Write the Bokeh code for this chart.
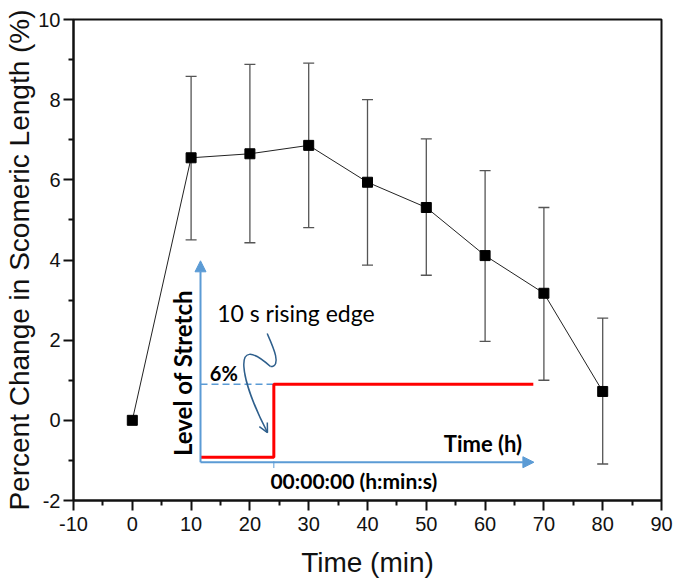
from bokeh.plotting import figure
from bokeh.models import (Range1d, FixedTicker, Whisker, ColumnDataSource, Arrow,
                          NormalHead, OpenHead, TeeHead)
from bokeh.embed import file_html
from bokeh.resources import INLINE
from bokeh.core.properties import value

# ---- main data ----
time_min = [0, 10, 20, 30, 40, 50, 60, 70, 80]
pct_change = [0.0, 6.55, 6.65, 6.86, 5.94, 5.31, 4.11, 3.17, 0.72]
err_time = [10, 20, 30, 40, 50, 60, 70, 80]
err_upper = [8.58, 8.88, 8.91, 8.00, 7.02, 6.23, 5.31, 2.55]
err_lower = [4.50, 4.43, 4.81, 3.87, 3.62, 1.97, 1.00, -1.09]

x_ticks = [-10, 0, 10, 20, 30, 40, 50, 60, 70, 80, 90]
x_minor = [-5, 5, 15, 25, 35, 45, 55, 65, 75, 85]
y_ticks = [-2, 0, 2, 4, 6, 8, 10]
y_minor = [-1, 1, 3, 5, 7, 9]

# ---- inset schematic (in data units of the main axes) ----
inset_x0 = 11.6
inset_y_axis = [-1.045, 3.98]
inset_x_axis = [11.6, 68.3]
step_x = [11.6, 24.07, 24.07, 68.2]
step_y = [-0.92, -0.92, 0.90, 0.90]
dash_x = [11.6, 24.07]
dash_y = [0.90, 0.90]
edge_tick_x = [24.07, 24.07]
edge_tick_y = [-1.02, -1.19]
# squiggle arrow (two cubic Bezier segments)
sq_x0 = [22.94, 23.50]
sq_y0 = [2.165, 1.342]
sq_cx0 = [23.84, 16.70]
sq_cy0 = [1.865, 2.239]
sq_cx1 = [25.54, 18.40]
sq_cy1 = [1.342, 0.993]
sq_x1 = [23.50, 22.99]
sq_y1 = [1.342, -0.304]

BLUE = "#5b9bd5"
DARKBLUE = "#2e5f8c"
RED = "#ff0000"

p = figure(frame_width=588, frame_height=481,
           min_border_left=73, min_border_top=19, min_border_right=14, min_border_bottom=87,
           x_range=Range1d(-10, 90), y_range=Range1d(-2, 10),
           output_backend="svg", toolbar_location=None)
p.background_fill_color = "white"
p.border_fill_color = "white"
p.xgrid.visible = False
p.ygrid.visible = False
p.outline_line_color = "#111111"
p.outline_line_width = 2
p.outline_line_alpha = 1

for ax in (p.xaxis[0], p.yaxis[0]):
    ax.axis_line_width = 2
    ax.axis_line_color = "#111111"
    ax.major_tick_line_width = 2
    ax.minor_tick_line_width = 2
    ax.major_tick_line_color = "#111111"
    ax.minor_tick_line_color = "#111111"
    ax.major_tick_out = 10
    ax.major_tick_in = 0
    ax.minor_tick_out = 5
    ax.minor_tick_in = 0
    ax.major_label_text_font = "Liberation Sans"
    ax.major_label_text_font_size = "20px"
    ax.major_label_text_color = "#111111"
    ax.axis_label_text_font = "Liberation Sans"
    ax.axis_label_text_font_size = "28px"
    ax.axis_label_text_font_style = "normal"
    ax.axis_label_text_color = "#111111"

p.xaxis.ticker = FixedTicker(ticks=x_ticks, minor_ticks=x_minor)
p.yaxis.ticker = FixedTicker(ticks=y_ticks, minor_ticks=y_minor)
p.xaxis.major_label_overrides = {t: str(t) for t in x_ticks}
p.yaxis.major_label_overrides = {t: str(t) for t in y_ticks}
p.xaxis.axis_label = "Time (min)"
p.yaxis.axis_label = "Percent Change in Scomeric Length (%)"
p.xaxis.major_label_standoff = 6
p.yaxis.major_label_standoff = 3
p.xaxis.axis_label_standoff = 13
p.yaxis.axis_label_standoff = 0

# ---- inset drawing ----
p.line(dash_x, dash_y, line_color=BLUE, line_width=1.5, line_dash="7 4")
p.line(edge_tick_x, edge_tick_y, line_color=BLUE, line_width=1)
p.add_layout(Arrow(x_start=inset_x0, y_start=inset_y_axis[0], x_end=inset_x0, y_end=inset_y_axis[1],
                   line_color=BLUE, line_width=2,
                   end=NormalHead(size=11, fill_color=BLUE, line_color=BLUE)))
p.add_layout(Arrow(x_start=inset_x_axis[0], y_start=inset_y_axis[0], x_end=inset_x_axis[1], y_end=inset_y_axis[0],
                   line_color=BLUE, line_width=2,
                   end=NormalHead(size=11, fill_color=BLUE, line_color=BLUE)))
p.line(step_x, step_y, line_color=RED, line_width=3)
p.bezier(x0=sq_x0, y0=sq_y0, x1=sq_x1, y1=sq_y1, cx0=sq_cx0, cy0=sq_cy0, cx1=sq_cx1, cy1=sq_cy1,
         line_color=DARKBLUE, line_width=1.5)
p.add_layout(Arrow(x_start=22.07, y_start=-0.045, x_end=sq_x1[1], y_end=sq_y1[1],
                   line_alpha=0, line_width=1,
                   end=OpenHead(size=9, line_color=DARKBLUE, line_width=1.5)))

p.text(x=[8.49], y=[1.18], text=["Level of Stretch"], angle=1.5708,
       text_font=value("Lato"), text_font_style="bold", text_font_size="24px",
       text_align="center", text_baseline="middle", text_color="#000000")
p.text(x=[14.44], y=[2.69], text=["10 s rising edge"],
       text_font=value("Lato"), text_font_size="23px",
       text_align="left", text_baseline="middle", text_color="#000000")
p.text(x=[13.18], y=[1.17], text=["6%"],
       text_font=value("Lato"), text_font_style="bold", text_font_size="20px",
       text_align="left", text_baseline="middle", text_color="#000000")
p.text(x=[37.67], y=[-1.50], text=["00:00:00 (h:min:s)"],
       text_font=value("Lato"), text_font_style="bold", text_font_size="21px",
       text_align="center", text_baseline="middle", text_color="#000000")
p.text(x=[66.3], y=[-0.58], text=["Time (h)"],
       text_font=value("Lato"), text_font_style="bold", text_font_size="22px",
       text_align="right", text_baseline="middle", text_color="#000000")

# ---- main series ----
err_src = ColumnDataSource(dict(x=err_time, upper=err_upper, lower=err_lower))
p.add_layout(Whisker(base="x", upper="upper", lower="lower", source=err_src,
                     line_color="#555555", line_width=1.3,
                     upper_head=TeeHead(size=11, line_color="#555555", line_width=1.3),
                     lower_head=TeeHead(size=11, line_color="#555555", line_width=1.3)))
p.line(time_min, pct_change, line_color="#222222", line_width=1)
p.scatter(time_min, pct_change, marker="square", size=10, fill_color="black", line_color="black")

open("out.html", "w").write(file_html(p, INLINE))
